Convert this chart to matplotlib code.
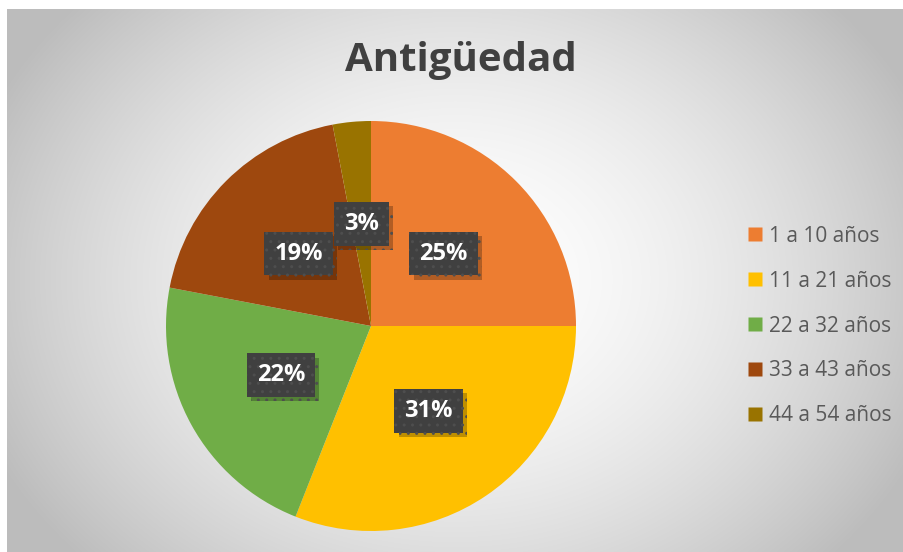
import numpy as np
import matplotlib.pyplot as plt
import matplotlib.patheffects as pe
from matplotlib.lines import Line2D

# datos
categorias = ['1 a 10 años', '11 a 21 años', '22 a 32 años', '33 a 43 años', '44 a 54 años']
porcentajes = [25, 31, 22, 19, 3]
colores = ['#ED7D31', '#FFC000', '#70AD47', '#9E480E', '#997300']
titulo = 'Antigüedad'

plt.rcParams['font.family'] = ['Open Sans', 'DejaVu Sans']

fig = plt.figure(figsize=(9.04, 5.52), dpi=100)

# fondo con degradado radial
bg = fig.add_axes([7 / 904, 0, 897 / 904, 543 / 552])
yy, xx = np.mgrid[0:543, 0:897]
cx, cy = 448, 270
d = np.sqrt(((xx - cx) / 520) ** 2 + ((yy - cy) / 420) ** 2)
val = np.clip(1.0 - 0.27 * d ** 1.7, 0.74, 1.0)
bg.imshow(np.dstack([val, val, val]), aspect='auto', interpolation='bilinear')
bg.axis('off')

# pastel
ax = fig.add_axes([166 / 904, 21 / 552, 410 / 904, 410 / 552])
wedges, _ = ax.pie(porcentajes, colors=colores, startangle=90, counterclock=False,
                   radius=1.0, wedgeprops=dict(linewidth=0))
ax.set_xlim(-1, 1)
ax.set_ylim(-1, 1)
ax.set_aspect('equal')
ax.axis('off')

# etiquetas de porcentaje
for w, p in zip(wedges, porcentajes):
    ang = np.deg2rad((w.theta1 + w.theta2) / 2)
    r = 0.5
    x, y = r * np.cos(ang), r * np.sin(ang)
    t = ax.text(x, y, f'{p}%', ha='center', va='center', fontsize=17, fontweight='bold',
                color='white',
                bbox=dict(boxstyle='square,pad=0.42', facecolor='#404040', edgecolor='#4e4e4e',
                          linewidth=0, hatch='..'))
    t.get_bbox_patch().set_path_effects([
        pe.SimplePatchShadow(offset=(3, -3), shadow_rgbFace='black', alpha=0.25),
        pe.Normal()])

# título
fig.text(461 / 904, 1 - 60 / 552, titulo, ha='center', va='center', fontsize=29,
         fontweight='bold', color='#404040')

# leyenda
handles = [Line2D([], [], marker='s', linestyle='none', markersize=10.5,
                  markerfacecolor=c, markeredgecolor='none') for c in colores]
fig.legend(handles, categorias, loc='center left', bbox_to_anchor=(737 / 904, 1 - 326 / 552),
           frameon=False, fontsize=15, labelcolor='#595959', handlelength=0.7,
           handletextpad=0.35, labelspacing=1.15, borderpad=0)

fig.savefig('out.png', dpi=100)
